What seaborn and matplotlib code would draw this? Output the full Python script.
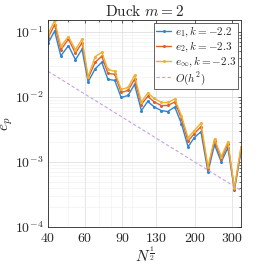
import matplotlib
matplotlib.use("Agg")
import matplotlib.pyplot as plt
import seaborn as sns
import pandas as pd
from matplotlib.ticker import FixedLocator, FixedFormatter, NullFormatter, LogLocator

# ---- data ----
n_half = [40, 43, 46, 50, 54, 58, 62, 67, 72, 77, 83, 89, 96, 103, 111, 119,
          128, 138, 148, 160, 172, 185, 198, 213, 230, 247, 266, 286, 307, 330]
e1 = [0.0669, 0.1026, 0.0426, 0.0612, 0.0372, 0.0540, 0.0170, 0.0270, 0.0340, 0.0186,
      0.0179, 0.00979, 0.0105, 0.01555, 0.00616, 0.00849, 0.00698, 0.00616, 0.00595, 0.00698,
      0.00388, 0.00171, 0.00236, 0.00292, 0.00070, 0.00184, 0.00100, 0.00165, 0.00037, 0.00143]
e2 = [0.0799, 0.1293, 0.0527, 0.0771, 0.0469, 0.0680, 0.0193, 0.0340, 0.0421, 0.0230,
      0.0222, 0.0117, 0.01255, 0.01858, 0.00763, 0.01015, 0.00834, 0.00736, 0.00737, 0.00834,
      0.00464, 0.00208, 0.00272, 0.00349, 0.00078, 0.00212, 0.00111, 0.00190, 0.000383, 0.00159]
einf = [0.0921, 0.1491, 0.0597, 0.0843, 0.0531, 0.0771, 0.0203, 0.0414, 0.0485, 0.0265,
        0.0246, 0.0130, 0.01395, 0.0214, 0.00833, 0.01149, 0.00944, 0.00819, 0.00819, 0.00928,
        0.00516, 0.00235, 0.00303, 0.00395, 0.000837, 0.00228, 0.00120, 0.00204, 0.000397, 0.00171]
ref_x = [40, 330]
ref_y = [0.0247, 0.000363]

series_labels = [r"$e_1, k=-2.2$", r"$e_2, k=-2.3$", r"$e_{\infty}, k=-2.3$"]
ref_label = r"$O(h^2)$"
xticks = [40, 60, 90, 130, 200, 300]
yticks = [1e-4, 1e-3, 1e-2, 1e-1]

colors = ["#2E86D1", "#E0602C", "#F0B030"]

sns.set_style("white")
plt.rcParams["font.family"] = ["DejaVu Serif"]
plt.rcParams["mathtext.fontset"] = "cm"
plt.rcParams["font.serif"] = ["DejaVu Serif"]

fig = plt.figure(figsize=(2.66, 2.66), dpi=100)
ax = fig.add_axes([0.1805, 0.1466, 0.7255, 0.7784])

for vals, lab, c in zip([e1, e2, einf], series_labels, colors):
    df = pd.DataFrame({"x": n_half, "y": vals})
    sns.lineplot(data=df, x="x", y="y", ax=ax, color=c, lw=1.0, marker="o",
                 markersize=2.2, markeredgewidth=0, label=lab, sort=False)
dfr = pd.DataFrame({"x": ref_x, "y": ref_y})
sns.lineplot(data=dfr, x="x", y="y", ax=ax, color="#C9A0E0", lw=0.8,
             linestyle=(0, (3, 2)), label=ref_label)

ax.set_xscale("log")
ax.set_yscale("log")
ax.set_xlim(40, 330)
ax.set_ylim(1e-4, 0.152)

ax.xaxis.set_major_locator(FixedLocator(xticks))
ax.xaxis.set_major_formatter(FixedFormatter([r"$%d$" % t for t in xticks]))
ax.xaxis.set_minor_locator(LogLocator(base=10, subs=range(1, 10)))
ax.xaxis.set_minor_formatter(NullFormatter())
ax.yaxis.set_major_locator(FixedLocator(yticks))
ax.yaxis.set_major_formatter(FixedFormatter([r"$10^{-4}$", r"$10^{-3}$", r"$10^{-2}$", r"$10^{-1}$"]))
ax.yaxis.set_minor_locator(LogLocator(base=10, subs=range(2, 10)))
ax.yaxis.set_minor_formatter(NullFormatter())

ax.grid(True, which="major", color="#DADADA", lw=0.5)
ax.grid(True, which="minor", color="#EEEEEE", lw=0.4)
ax.tick_params(which="both", direction="in", length=2, width=0.5, colors="#262626",
               labelsize=10, top=True, right=True)
ax.tick_params(which="minor", length=1.2)
ax.tick_params(axis="x", pad=3)
for s in ax.spines.values():
    s.set_color("#262626")
    s.set_linewidth(0.6)

ax.set_title(r"$\mathrm{Duck}\ m = 2$", fontsize=11, pad=3)
ax.set_xlabel(r"$N^{\frac{1}{2}}$", fontsize=11, labelpad=0)
ax.set_ylabel(r"$e_p$", fontsize=11, labelpad=0)

leg = ax.legend(loc="upper right", fontsize=8, frameon=True, fancybox=False,
                edgecolor="#262626", framealpha=1, borderpad=0.2, labelspacing=0.05,
                handlelength=1.4, handletextpad=0.3, borderaxespad=0.25)
leg.get_frame().set_linewidth(0.5)

fig.savefig("out.png", dpi=100)
